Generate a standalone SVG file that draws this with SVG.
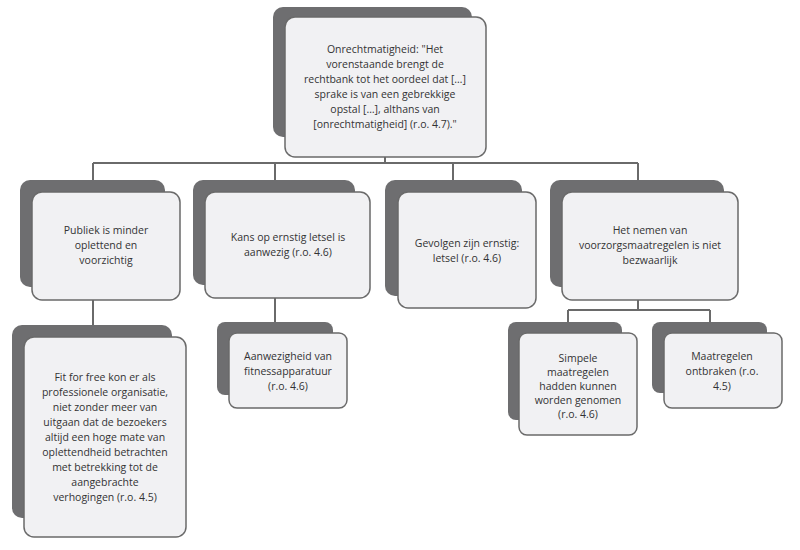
<svg xmlns="http://www.w3.org/2000/svg" width="800" height="550" viewBox="0 0 800 550">
<style>
.sh{fill:#6e6e70}
.bx{fill:#f1f1f3;stroke:#6a6a6a;stroke-width:1.5}
text{font-family:"Open Sans","Liberation Sans",sans-serif;font-size:10.5px;fill:#333;text-anchor:middle}
.c{stroke:#6a6a6a;stroke-width:2;fill:none}
</style>
<rect width="800" height="550" fill="#fff"/>
<g id="connectors">
<path class="c" d="M385 157V163M93 163H638M93 163V192M275 163V192M453 163V192M638 163V192"/>
<path class="c" d="M93 300V337M275 298V333M638 300V310M568 310H710M568 310V333M710 310V333"/>
</g>
<g id="n0"><rect class="sh" x="273" y="7" width="199" height="130" rx="10"/><rect class="bx" x="285" y="17" width="201" height="140" rx="10"/>
<text x="385" y="53">Onrechtmatigheid: "Het</text><text x="385" y="68">vorenstaande brengt de</text><text x="385" y="83">rechtbank tot het oordeel dat […]</text><text x="385" y="98">sprake is van een gebrekkige</text><text x="385" y="113">opstal […], althans van</text><text x="385" y="128">[onrechtmatigheid] (r.o. 4.7)."</text></g>
<g id="n1"><rect class="sh" x="20" y="180" width="145" height="107" rx="10"/><rect class="bx" x="32" y="192" width="148" height="108" rx="10"/>
<text x="106" y="234">Publiek is minder</text><text x="106" y="249">oplettend en</text><text x="106" y="264">voorzichtig</text></g>
<g id="n2"><rect class="sh" x="193" y="180" width="162" height="105" rx="10"/><rect class="bx" x="205" y="192" width="165" height="106" rx="10"/>
<text x="288" y="241">Kans op ernstig letsel is</text><text x="288" y="256">aanwezig (r.o. 4.6)</text></g>
<g id="n3"><rect class="sh" x="385" y="180" width="137" height="116" rx="10"/><rect class="bx" x="398" y="192" width="138" height="116" rx="10"/>
<text x="467" y="247">Gevolgen zijn ernstig:</text><text x="467" y="262">letsel (r.o. 4.6)</text></g>
<g id="n4"><rect class="sh" x="550" y="180" width="174" height="107" rx="10"/><rect class="bx" x="562" y="192" width="176" height="108" rx="10"/>
<text x="650" y="234">Het nemen van</text><text x="650" y="249">voorzorgsmaatregelen is niet</text><text x="650" y="264">bezwaarlijk</text></g>
<g id="n5"><rect class="sh" x="12" y="325" width="160" height="193" rx="10"/><rect class="bx" x="24" y="337" width="162" height="200" rx="10"/>
<text x="105" y="381">Fit for free kon er als</text><text x="105" y="396">professionele organisatie,</text><text x="105" y="411">niet zonder meer van</text><text x="105" y="426">uitgaan dat de bezoekers</text><text x="105" y="441">altijd een hoge mate van</text><text x="105" y="456">oplettendheid betrachten</text><text x="105" y="471">met betrekking tot de</text><text x="105" y="486">aangebrachte</text><text x="105" y="501">verhogingen (r.o. 4.5)</text></g>
<g id="n6"><rect class="sh" x="217" y="322" width="116" height="73" rx="8"/><rect class="bx" x="229" y="333" width="118" height="75" rx="8"/>
<text x="288" y="360">Aanwezigheid van</text><text x="288" y="375">fitnessapparatuur</text><text x="288" y="390">(r.o. 4.6)</text></g>
<g id="n7"><rect class="sh" x="508" y="322" width="114" height="98" rx="8"/><rect class="bx" x="519" y="333" width="118" height="102" rx="8"/>
<text x="578" y="362">Simpele</text><text x="578" y="376">maatregelen</text><text x="578" y="390">hadden kunnen</text><text x="578" y="404">worden genomen</text><text x="578" y="418">(r.o. 4.6)</text></g>
<g id="n8"><rect class="sh" x="652" y="322" width="115" height="71" rx="8"/><rect class="bx" x="664" y="333" width="118" height="75" rx="8"/>
<text x="722" y="360">Maatregelen</text><text x="722" y="375">ontbraken (r.o.</text><text x="722" y="390">4.5)</text></g>
</svg>
